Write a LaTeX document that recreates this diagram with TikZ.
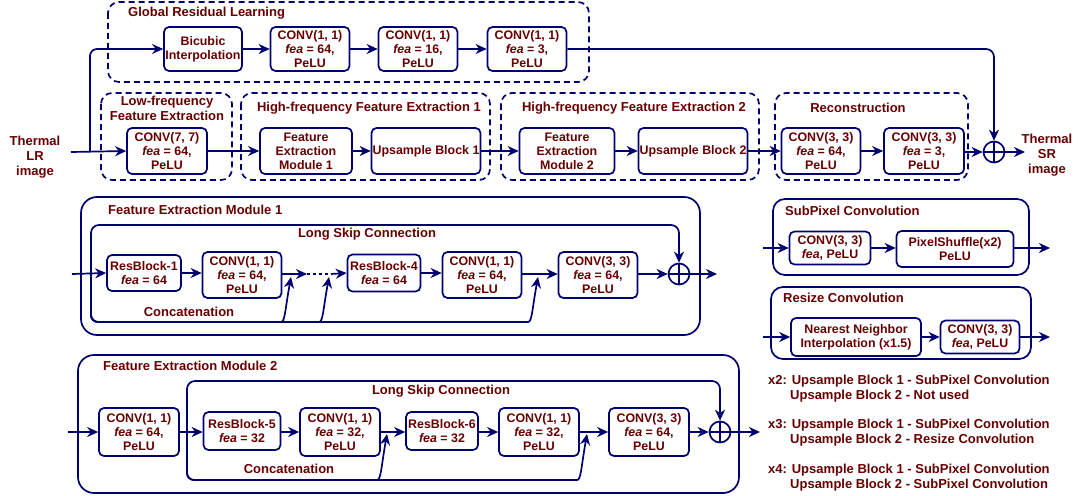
\documentclass[tikz,border=0pt]{standalone}
\usepackage{fontspec}
\setmainfont{Liberation Sans}
\usetikzlibrary{arrows.meta}
\definecolor{navy}{RGB}{0,0,110}
\definecolor{dred}{RGB}{102,0,0}
\tikzset{
  box/.style={draw=navy, line width=1.7pt, rounded corners=5pt, fill=white, align=center,
    text=dred, font=\fontsize{12.4}{14}\selectfont\bfseries, inner sep=0.5pt},
  dbox/.style={draw=navy, line width=1.7pt, dash pattern=on 6pt off 4pt, rounded corners=11pt},
  sbox/.style={draw=navy, line width=1.7pt, rounded corners=16pt},
  arr/.style={draw=navy, line width=1.7pt, -{Stealth[length=11pt,width=10pt,inset=3.5pt]}},
  ln/.style={draw=navy, line width=1.7pt},
  lbl/.style={text=dred, align=center, font=\fontsize{13}{15}\selectfont\bfseries, inner sep=0pt},
  leg/.style={text=dred, anchor=west, font=\fontsize{13}{15}\selectfont\bfseries, inner sep=0pt},
  plusc/.style={circle, draw=navy, line width=1.7pt, minimum size=21pt, inner sep=0pt, fill=white},
}
\begin{document}
\begin{tikzpicture}[x=1pt,y=-1pt]
\useasboundingbox (0,0) rectangle (1083,495);
% ---------------- Top part ----------------
\draw[dbox] (108,2) rectangle (589,82);
\node[lbl, anchor=west] (tglob) at (128,13) {Global Residual Learning};
\draw[dbox] (101,93) rectangle (232,180);
\node[lbl] (tlow) at (167,108) {Low-frequency\\Feature Extraction};
\draw[dbox] (241,93) rectangle (490,180);
\node[lbl] (thf1) at (369,108) {High-frequency Feature Extraction 1};
\draw[dbox] (501,93) rectangle (759,180);
\node[lbl] (thf2) at (634,108) {High-frequency Feature Extraction 2};
\draw[dbox] (775,93) rectangle (968,180);
\node[lbl] (trec) at (858,108) {Reconstruction};

\node[lbl] (tin) at (35,157) {Thermal\\LR\\image};
\node[lbl] (tout) at (1047,155) {Thermal\\SR\\image};
\coordinate (cin) at (71,152);
\coordinate (cbr) at (90,152);
\coordinate (cout) at (1025,152);

\node[box, minimum width=78pt, minimum height=44pt] (bic) at (203,49) {Bicubic\\Interpolation};
\node[box, minimum width=79pt, minimum height=44pt] (g1) at (310,49) {CONV(1, 1)\\\textit{fea} = 64,\\PeLU};
\node[box, minimum width=79pt, minimum height=44pt] (g2) at (418,49) {CONV(1, 1)\\\textit{fea} = 16,\\PeLU};
\node[box, minimum width=79pt, minimum height=44pt] (g3) at (527,49) {CONV(1, 1)\\\textit{fea} = 3,\\PeLU};

\node[box, minimum width=80pt, minimum height=46pt] (c7) at (167,151) {CONV(7, 7)\\\textit{fea} = 64,\\PeLU};
\node[box, minimum width=92pt, minimum height=46pt] (fem1) at (306,151) {Feature\\Extraction\\Module 1};
\node[box, minimum width=109pt, minimum height=46pt] (up1) at (426,151) {Upsample Block 1};
\node[box, minimum width=95pt, minimum height=46pt] (fem2) at (567,151) {Feature\\Extraction\\Module 2};
\node[box, minimum width=109pt, minimum height=46pt] (up2) at (693,151) {Upsample Block 2};
\node[box, minimum width=79pt, minimum height=46pt] (r1) at (821,151) {CONV(3, 3)\\\textit{fea} = 64,\\PeLU};
\node[box, minimum width=80pt, minimum height=46pt] (r2) at (924,151) {CONV(3, 3)\\\textit{fea} = 3,\\PeLU};
\node[plusc] (p0) at (994,152) {};
\draw[ln] (p0.north) -- (p0.south) (p0.west) -- (p0.east);

\draw[arr] (cin) -- (c7.west);
\draw[arr, rounded corners=7pt] (cbr) |- (bic.west);
\draw[arr] (bic) -- (g1);
\draw[arr] (g1) -- (g2);
\draw[arr] (g2) -- (g3);
\draw[arr, rounded corners=8pt] (g3.east) -| (p0.north);
\draw[arr] (c7) -- (fem1);
\draw[arr] (fem1) -- (up1);
\draw[arr] (up1) -- (fem2);
\draw[arr] (fem2) -- (up2);
\draw[arr] (up2) -- (r1);
\draw[arr] (r1) -- (r2);
\draw[arr] (r2.east |- p0) -- (p0.west);
\draw[arr] (p0.east) -- (cout);

% ---------------- Feature Extraction Module 1 ----------------
\draw[sbox] (81,197) rectangle (700,335);
\node[lbl, anchor=west] (tfem1) at (108,210) {Feature Extraction Module 1};
\node[lbl] (tskip1) at (367,234) {Long Skip Connection};
\node[lbl] (tcat1) at (189,312) {Concatenation};
\coordinate (ain) at (72,274);
\coordinate (aj) at (91,274);
\node[box, minimum width=74pt, minimum height=36pt] (rb1) at (144,273) {ResBlock-1\\\textit{fea} = 64};
\node[box, minimum width=79pt, minimum height=46pt] (ca) at (242,275) {CONV(1, 1)\\\textit{fea} = 64,\\PeLU};
\node[box, minimum width=73pt, minimum height=37pt] (rb4) at (384,273) {ResBlock-4\\\textit{fea} = 64};
\node[box, minimum width=79pt, minimum height=46pt] (cb) at (482,275) {CONV(1, 1)\\\textit{fea} = 64,\\PeLU};
\node[box, minimum width=79pt, minimum height=46pt] (cc) at (598,275) {CONV(3, 3)\\\textit{fea} = 64,\\PeLU};
\node[plusc] (p1) at (679,274) {};
\draw[ln] (p1.north) -- (p1.south) (p1.west) -- (p1.east);
\coordinate (da) at (307,274);
\coordinate (db) at (331,274);
\coordinate (o1) at (717,274);
\coordinate (t1) at (291,277);
\coordinate (t2) at (329,277);
\coordinate (t3) at (538,277);

\draw[arr] (ain) -- (rb1.west);
\draw[arr] (rb1.east) -- (ca.west |- rb1.east);
\draw[arr] (ca.east |- da) -- (da);
\draw[ln, dash pattern=on 3pt off 3pt] (da) -- (db);
\draw[arr] (db) -- (rb4.west);
\draw[arr] (rb4.east) -- (cb.west |- rb4.east);
\draw[arr] (cb.east |- p1) -- (cc.west |- p1);
\draw[arr] (cc.east |- p1) -- (p1.west);
\draw[arr] (p1.east) -- (o1);
\draw[arr, rounded corners=8pt] (aj) -- (91,225) -| (p1.north);
\draw[arr, rounded corners=7pt] (aj) -- (91,322) -- (274,322) .. controls (285,322) and (285,310) .. (t1);
\draw[arr, rounded corners=7pt] (aj) -- (91,322) -- (312,322) .. controls (323,322) and (323,310) .. (t2);
\draw[arr, rounded corners=7pt] (aj) -- (91,322) -- (521,322) .. controls (532,322) and (532,310) .. (t3);

% ---------------- Feature Extraction Module 2 ----------------
\draw[sbox] (78,355) rectangle (739,493);
\node[lbl, anchor=west] (tfem2) at (103,366) {Feature Extraction Module 2};
\node[lbl] (tskip2) at (441,391) {Long Skip Connection};
\node[lbl] (tcat2) at (289,469) {Concatenation};
\coordinate (bin) at (68,432);
\coordinate (bj) at (187,432);
\node[box, minimum width=80pt, minimum height=48pt] (k1) at (139,432) {CONV(1, 1)\\\textit{fea} = 64,\\PeLU};
\node[box, minimum width=77pt, minimum height=38pt] (rb5) at (242,431) {ResBlock-5\\\textit{fea} = 32};
\node[box, minimum width=80pt, minimum height=48pt] (k2) at (340,432) {CONV(1, 1)\\\textit{fea} = 32,\\PeLU};
\node[box, minimum width=72pt, minimum height=38pt] (rb6) at (442,431) {ResBlock-6\\\textit{fea} = 32};
\node[box, minimum width=80pt, minimum height=48pt] (k3) at (539,432) {CONV(1, 1)\\\textit{fea} = 32,\\PeLU};
\node[box, minimum width=80pt, minimum height=48pt] (k4) at (649,432) {CONV(3, 3)\\\textit{fea} = 64,\\PeLU};
\node[plusc] (p2) at (720,432) {};
\draw[ln] (p2.north) -- (p2.south) (p2.west) -- (p2.east);
\coordinate (o2) at (760,432);
\coordinate (u1) at (387,434);
\coordinate (u2) at (587,434);

\draw[arr] (bin) -- (k1.west);
\draw[arr] (k1.east) -- (rb5.west |- k1.east);
\draw[arr] (rb5.east |- k1.east) -- (k2.west);
\draw[arr] (k2.east) -- (rb6.west |- k2.east);
\draw[arr] (rb6.east |- k2.east) -- (k3.west);
\draw[arr] (k3.east) -- (k4.west);
\draw[arr] (k4.east) -- (p2.west);
\draw[arr] (p2.east) -- (o2);
\draw[arr, rounded corners=8pt] (bj) -- (187,381) -| (p2.north);
\draw[arr, rounded corners=7pt] (bj) -- (187,480) -- (370,480) .. controls (381,480) and (381,468) .. (u1);
\draw[arr, rounded corners=7pt] (bj) -- (187,480) -- (570,480) .. controls (581,480) and (581,468) .. (u2);

% ---------------- SubPixel Convolution ----------------
\draw[sbox, rounded corners=12pt] (773,199) rectangle (1029,275);
\node[lbl, anchor=west] (tsub) at (785,211) {SubPixel Convolution};
\node[box, minimum width=81pt, minimum height=33pt] (s1) at (830,248) {CONV(3, 3)\\\textit{fea}, PeLU};
\node[box, minimum width=117pt, minimum height=36pt] (s2) at (955,249) {PixelShuffle(x2)\\PeLU};
\coordinate (sin) at (763,248);
\coordinate (sout) at (1050,248);
\draw[arr] (sin) -- (s1.west);
\draw[arr] (s1.east) -- (s2.west |- s1.east);
\draw[arr] (s2.east |- sout) -- (sout);

% ---------------- Resize Convolution ----------------
\draw[sbox, rounded corners=12pt] (771,287) rectangle (1031,359);
\node[lbl, anchor=west] (tres) at (783,298) {Resize Convolution};
\node[box, minimum width=130pt, minimum height=38pt] (n1) at (856,337) {Nearest Neighbor\\Interpolation (x1.5)};
\node[box, minimum width=79pt, minimum height=33pt] (n2) at (980,337) {CONV(3, 3)\\\textit{fea}, PeLU};
\coordinate (nin) at (763,337);
\coordinate (nout) at (1050,337);
\draw[arr] (nin) -- (n1.west);
\draw[arr] (n1.east) -- (n2.west);
\draw[arr] (n2.east) -- (nout);

% ---------------- Legend ----------------
\node[leg] (l1) at (768,381) {x2: Upsample Block 1 - SubPixel Convolution};
\node[leg] (l2) at (790,396) {Upsample Block 2 - Not used};
\node[leg] (l3) at (768,425) {x3: Upsample Block 1 - SubPixel Convolution};
\node[leg] (l4) at (790,440) {Upsample Block 2 - Resize Convolution};
\node[leg] (l5) at (768,470) {x4: Upsample Block 1 - SubPixel Convolution};
\node[leg] (l6) at (790,485) {Upsample Block 2 - SubPixel Convolution};
\end{tikzpicture}
\end{document}
